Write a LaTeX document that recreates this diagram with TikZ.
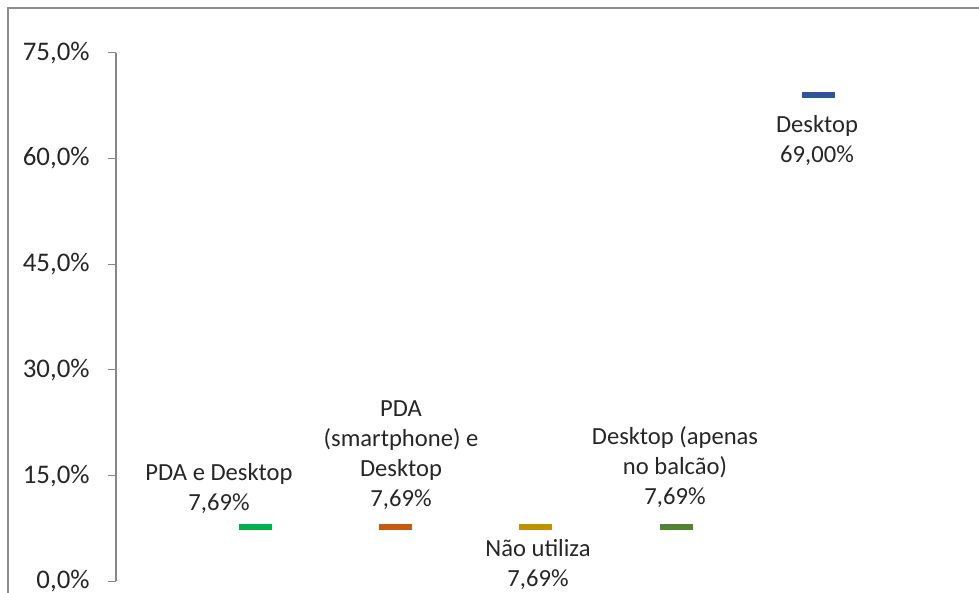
\documentclass[tikz,border=0pt]{standalone}
\usepackage{fontspec}
\setmainfont{Carlito}
\usetikzlibrary{positioning}

\definecolor{pdagreen}{HTML}{00B050}
\definecolor{smartorange}{HTML}{C55A11}
\definecolor{naogold}{HTML}{BF9000}
\definecolor{balcaoolive}{HTML}{538135}
\definecolor{desktopblue}{HTML}{2F5597}
\definecolor{axisgray}{HTML}{868686}
\definecolor{framegray}{HTML}{8C8C8C}

\tikzset{
  tick label/.style={anchor=east, inner sep=0pt, text=black!85,
    font=\fontsize{15.3}{18}\selectfont},
  data label/.style={align=center, inner sep=0pt, text=black!85,
    font=\fontsize{14}{17.1}\selectfont},
  marker/.style={rectangle, inner sep=0pt, minimum width=0.66cm,
    minimum height=0.12cm, draw=none}
}

\begin{document}
\begin{tikzpicture}[x=0.02cm, y=0.141cm]
        \def\xaxis{116}
        \def\ymin{0}
        \def\ymax{75}

        \useasboundingbox (0,-1.631) rectangle (979,82.48);

        % chart frame (only top and left edges are visible)
        \draw[framegray, line width=0.9pt] (8,-1.7) -- (8,81.35) -- (980,81.35);

        % value axis
        \draw[axisgray, line width=0.6pt] (\xaxis,\ymin) -- (\xaxis,\ymax);
        \draw[axisgray, line width=0.6pt] (108,0) -- (\xaxis,0);
        \draw[axisgray, line width=0.6pt] (108,15) -- (\xaxis,15);
        \draw[axisgray, line width=0.6pt] (108,30) -- (\xaxis,30);
        \draw[axisgray, line width=0.6pt] (108,45) -- (\xaxis,45);
        \draw[axisgray, line width=0.6pt] (108,60) -- (\xaxis,60);
        \draw[axisgray, line width=0.6pt] (108,75) -- (\xaxis,75);

\node[tick label] (t0) at (90,0) {0,0\%};
\node[tick label] (t15) at (90,15) {15,0\%};
\node[tick label] (t30) at (90,30) {30,0\%};
\node[tick label] (t45) at (90,45) {45,0\%};
\node[tick label] (t60) at (90,60) {60,0\%};
\node[tick label] (t75) at (90,75) {75,0\%};

% markers
\node[marker, fill=pdagreen] (mpda) at (255.5,7.69) {};
\node[marker, fill=smartorange] (msmart) at (395.5,7.69) {};
\node[marker, fill=naogold] (mnao) at (535.5,7.69) {};
\node[marker, fill=balcaoolive] (mbalcao) at (676,7.69) {};
\node[marker, fill=desktopblue] (mdesk) at (818,69) {};

% data labels
\node[data label] (lpda) at (219,13.19) {PDA e Desktop\\7,69\%};
\node[data label] (lsmart) at (401,17.94) {PDA\\(smartphone) e\\Desktop\\7,69\%};
\node[data label] (lnao) at (538,2.34) {Não utiliza\\7,69\%};
\node[data label] (lbalcao) at (675,16.17) {Desktop (apenas\\no balcão)\\7,69\%};
\node[data label] (ldesk) at (817,62.55) {Desktop\\69,00\%};

\end{tikzpicture}
\end{document}
